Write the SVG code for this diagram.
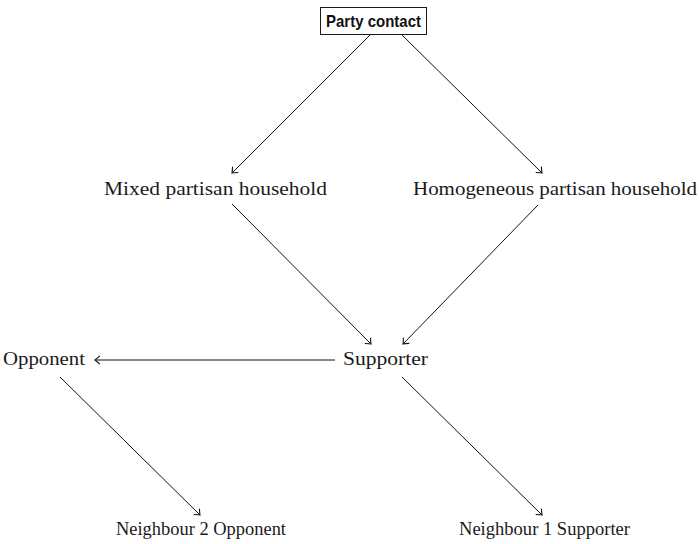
<svg xmlns="http://www.w3.org/2000/svg" width="699" height="544" viewBox="0 0 699 544">
<style>
.lbl{font-family:"Liberation Serif","Times New Roman",serif;font-size:18.5px;fill:#1a1a1a;text-anchor:start}
.box{fill:#fff;stroke:#1a1a1a;stroke-width:1}
.bold{font-family:"Liberation Sans",Arial,sans-serif;font-weight:bold;font-size:16.5px;fill:#111}
.edge{stroke:#111;stroke-width:1;fill:none;marker-end:url(#arr)}
</style>
<defs>
<marker id="arr" markerUnits="userSpaceOnUse" markerWidth="12" markerHeight="12" viewBox="-6 -6 12 12" refX="0" refY="0" orient="auto">
<path d="M -4.5 -3.8 Q -1.5 -1 0 0 Q -1.5 1 -4.5 3.8" stroke="#111" stroke-width="1.1" fill="none" stroke-linecap="round"/>
</marker>
</defs>
<rect width="699" height="544" fill="#fff"/>
<g id="party">
<rect class="box" x="320.5" y="7.5" width="106" height="27"/>
<text class="bold" x="326" y="27" textLength="95" lengthAdjust="spacingAndGlyphs">Party contact</text>
</g>
<g id="mixed"><text class="lbl" x="104" y="195" textLength="223" lengthAdjust="spacingAndGlyphs">Mixed partisan household</text></g>
<g id="homog"><text class="lbl" x="413" y="195" textLength="284" lengthAdjust="spacingAndGlyphs">Homogeneous partisan household</text></g>
<g id="supporter"><text class="lbl" x="343" y="365" textLength="85" lengthAdjust="spacingAndGlyphs">Supporter</text></g>
<g id="opponent"><text class="lbl" x="3" y="365" textLength="82" lengthAdjust="spacingAndGlyphs">Opponent</text></g>
<g id="n2"><text class="lbl" x="116" y="535" textLength="170" lengthAdjust="spacingAndGlyphs">Neighbour 2 Opponent</text></g>
<g id="n1"><text class="lbl" x="459" y="535" textLength="171" lengthAdjust="spacingAndGlyphs">Neighbour 1 Supporter</text></g>
<g id="connectors">
<line class="edge" x1="370" y1="35" x2="232" y2="173"/>
<line class="edge" x1="402" y1="35" x2="542" y2="173"/>
<line class="edge" x1="232" y1="204" x2="371" y2="344"/>
<line class="edge" x1="538" y1="205" x2="403" y2="344"/>
<line class="edge" x1="335" y1="360" x2="95" y2="360"/>
<line class="edge" x1="60" y1="377" x2="200" y2="515"/>
<line class="edge" x1="402" y1="377" x2="542" y2="515"/>
</g>
</svg>
